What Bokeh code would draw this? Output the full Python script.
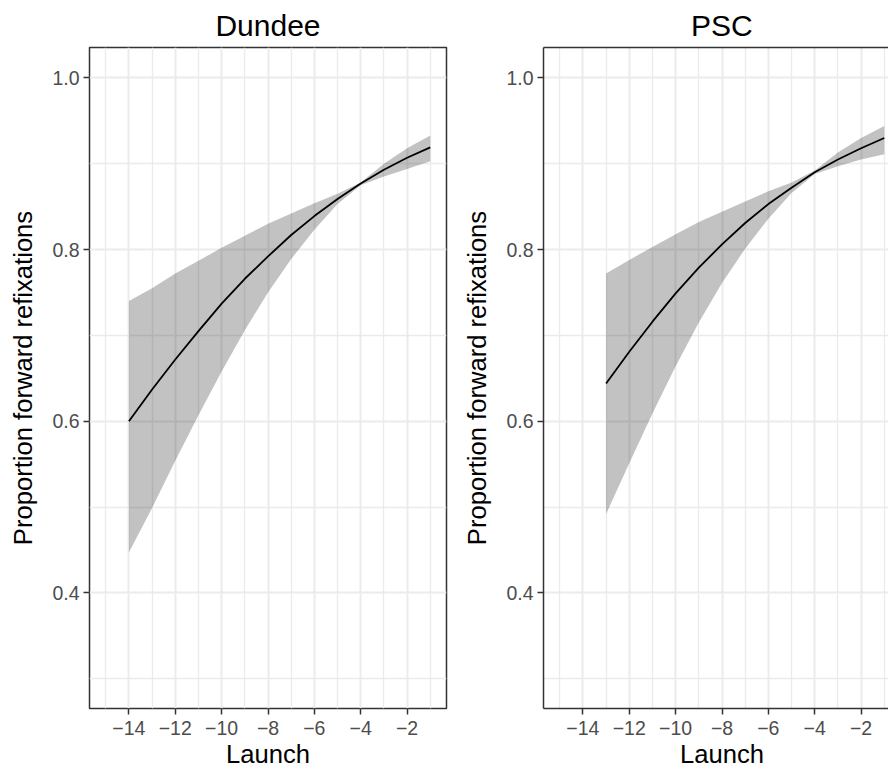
from bokeh.plotting import figure
from bokeh.layouts import row
from bokeh.models import Range1d, FixedTicker, LinearAxis, Title
from bokeh.embed import file_html
from bokeh.resources import INLINE

# ---------------- data ----------------
launch_dundee = [-14, -13, -12, -11, -10, -9, -8, -7, -6, -5, -4, -3, -2, -1]
fit_dundee = [0.600, 0.637, 0.672, 0.705, 0.737, 0.766, 0.792, 0.817, 0.839, 0.859, 0.877, 0.893, 0.907, 0.919]
lo_dundee = [0.447, 0.499, 0.554, 0.607, 0.658, 0.706, 0.750, 0.789, 0.823, 0.853, 0.875, 0.885, 0.894, 0.903]
hi_dundee = [0.740, 0.755, 0.772, 0.787, 0.802, 0.816, 0.830, 0.842, 0.854, 0.865, 0.878, 0.900, 0.918, 0.933]

launch_psc = [-13, -12, -11, -10, -9, -8, -7, -6, -5, -4, -3, -2, -1]
fit_psc = [0.644, 0.681, 0.716, 0.749, 0.779, 0.806, 0.831, 0.853, 0.872, 0.890, 0.905, 0.918, 0.930]
lo_psc = [0.492, 0.551, 0.609, 0.664, 0.715, 0.761, 0.801, 0.836, 0.866, 0.888, 0.897, 0.905, 0.911]
hi_psc = [0.772, 0.788, 0.803, 0.818, 0.832, 0.844, 0.856, 0.868, 0.878, 0.892, 0.913, 0.930, 0.944]

panel_titles = ["Dundee", "PSC"]
x_title = "Launch"
y_title = "Proportion forward refixations"

x_ticks = [-14, -12, -10, -8, -6, -4, -2]
x_tick_labels = ["\u221214", "\u221212", "\u221210", "\u22128", "\u22126", "\u22124", "\u22122"]
x_minor = [-15, -13, -11, -9, -7, -5, -3, -1]
y_ticks = [0.4, 0.6, 0.8, 1.0]
y_tick_labels = ["0.4", "0.6", "0.8", "1.0"]
y_minor = [0.3, 0.5, 0.7, 0.9]

# ---------------- style ----------------
FONT = "Liberation Sans"
BORDER = "#333333"
GRID = "#EBEBEB"
TICK_TXT = "#4D4D4D"
AX_TITLE_SIZE = "25.6px"
X_START, X_END_FULL = -15.7, -0.3
Y_START, Y_END = 0.2654, 1.0354


def make_panel(width, min_left, min_right, x_end, full_frame):
    p = figure(width=width, height=770, output_backend="svg", toolbar_location=None,
               x_range=Range1d(X_START, x_end), y_range=Range1d(Y_START, Y_END),
               min_border_left=min_left, min_border_right=min_right,
               min_border_top=47, min_border_bottom=61,
               background_fill_color="white", border_fill_color="white")
    xt = FixedTicker(ticks=x_ticks, minor_ticks=x_minor)
    yt = FixedTicker(ticks=y_ticks, minor_ticks=y_minor)
    p.xaxis.ticker = xt
    p.yaxis.ticker = yt
    p.xgrid.ticker = xt
    p.ygrid.ticker = yt
    p.xaxis.major_label_overrides = dict(zip(x_ticks, x_tick_labels))
    p.yaxis.major_label_overrides = dict(zip(y_ticks, y_tick_labels))
    for g in (p.xgrid, p.ygrid):
        g.grid_line_color = GRID
        g.grid_line_width = 2
        g.minor_grid_line_color = GRID
        g.minor_grid_line_width = 1.3
    for ax in (p.xaxis, p.yaxis):
        ax.major_tick_line_color = BORDER
        ax.major_tick_line_width = 1.5
        ax.major_tick_out = 6
        ax.major_tick_in = 0
        ax.minor_tick_line_color = None
        ax.major_label_text_font = FONT
        ax.major_label_text_font_size = "19.5px"
        ax.major_label_text_color = TICK_TXT
        ax.axis_label_text_font = FONT
        ax.axis_label_text_font_size = AX_TITLE_SIZE
        ax.axis_label_text_font_style = "normal"
        ax.axis_label_text_color = "black"
    p.xaxis.major_label_standoff = 6
    p.yaxis.major_label_standoff = 4
    p.yaxis.axis_label = y_title
    p.yaxis.axis_label_standoff = 12
    if full_frame:
        p.outline_line_color = BORDER
        p.outline_line_width = 1.5
        p.xaxis.axis_line_color = None
        p.yaxis.axis_line_color = None
    else:
        p.outline_line_color = None
        p.xaxis.axis_line_color = BORDER
        p.xaxis.axis_line_width = 1.5
        p.yaxis.axis_line_color = BORDER
        p.yaxis.axis_line_width = 1.5
        top = LinearAxis(ticker=FixedTicker(ticks=[]), axis_line_color=BORDER, axis_line_width=1.5,
                         major_tick_line_color=None, minor_tick_line_color=None,
                         major_label_standoff=0)
        p.add_layout(top, "above")
    return p


# left panel (full frame visible)
p1 = make_panel(460, 89, 14, X_END_FULL, True)
p1.varea(x=launch_dundee, y1=lo_dundee, y2=hi_dundee, fill_color="black", fill_alpha=0.24)
p1.line(x=launch_dundee, y=fit_dundee, line_color="black", line_width=1.8)
p1.title.text = panel_titles[0]
p1.title.align = "center"
p1.title.text_font = FONT
p1.title.text_font_size = "30px"
p1.title.text_font_style = "normal"
p1.title.text_color = "black"
p1.title.standoff = 12
p1.xaxis.axis_label = x_title
p1.xaxis.axis_label_standoff = 2

# right panel (cut at the window's right edge, like the reference)
frame_w2 = 428 - 83
x_end2 = X_START + frame_w2 * (X_END_FULL - X_START) / 357.0
p2 = make_panel(428, 83, 0, x_end2, False)
p2.varea(x=launch_psc, y1=lo_psc, y2=hi_psc, fill_color="black", fill_alpha=0.24)
p2.line(x=launch_psc, y=fit_psc, line_color="black", line_width=1.8)
p2.title.text = panel_titles[1]
p2.title.align = "left"
p2.title.offset = 147.5
p2.title.text_font = FONT
p2.title.text_font_size = "30px"
p2.title.text_font_style = "normal"
p2.title.text_color = "black"
p2.title.standoff = 12
p2.add_layout(Title(text=x_title, align="left", offset=136.5, standoff=0,
                    text_font=FONT, text_font_size=AX_TITLE_SIZE, text_font_style="normal",
                    text_color="black"), "below")

layout = row(p1, p2, spacing=0)
open("out.html", "w").write(file_html(layout, INLINE))
